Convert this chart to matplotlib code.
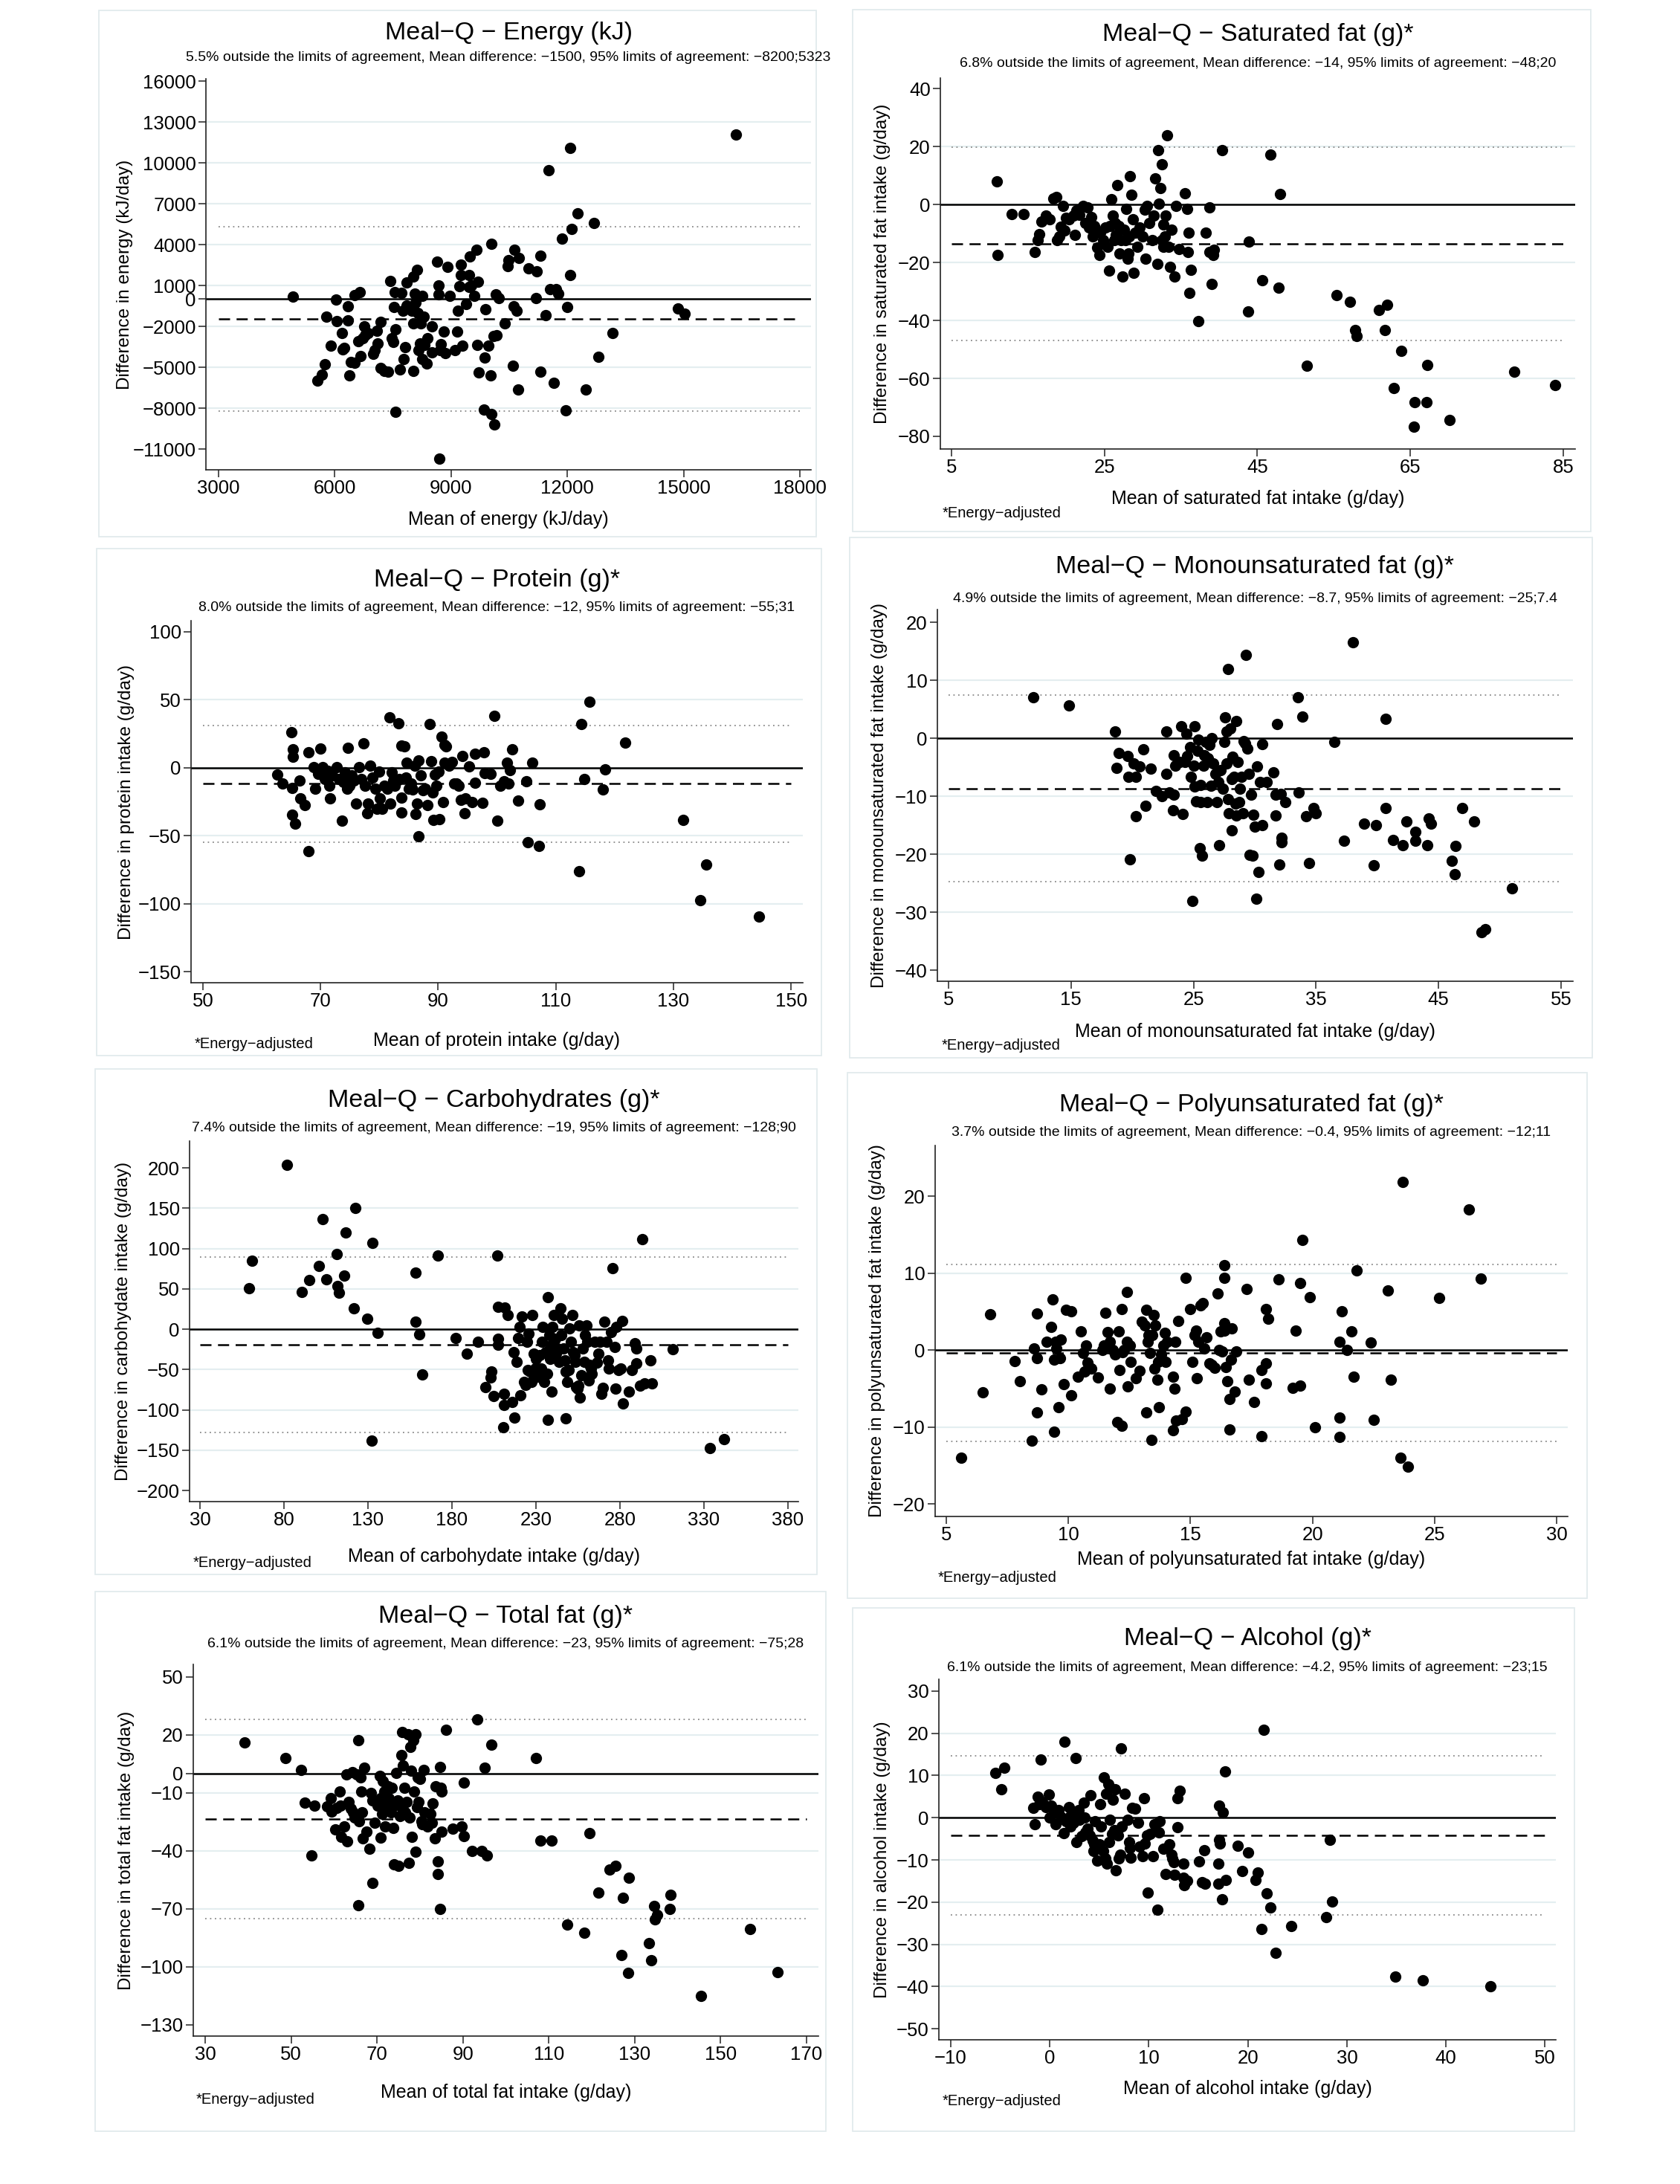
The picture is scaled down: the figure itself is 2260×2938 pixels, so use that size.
import matplotlib
matplotlib.use('Agg')
import matplotlib.pyplot as plt
from matplotlib.patches import Rectangle

W, H = 2260, 2938
NARROW = ['Liberation Sans Narrow', 'Liberation Sans', 'DejaVu Sans']
REG = ['Liberation Sans', 'DejaVu Sans']
GRID = '#e4eef0'
FRAME = '#e2ebed'
DOT = '#8a8a8a'

# ---- data: (mean of both methods, difference) ----
energy_pts = [(4919,201),(5546,-5985),(5668,-5530),(5742,-4777),(5780,-1307),(5890,-3420),(6026,-50),(6050,-1610),
    (6186,-2514),(6210,-3671),(6235,-3570),(6345,-503),(6345,-1584),(6382,-5607),(6407,-4600),(6505,300),(6517,-4650),
    (6603,-3068),(6641,528),(6666,-4199),(6728,-2891),(6763,-2011),(6788,-2640),(6849,-2514),(6985,-4023),(7034,-3772),
    (7083,-2313),(7107,-3269),(7182,-1685),(7182,-5028),(7280,-5280),(7378,-5330),(7440,1308),(7477,-2891),(7502,-3168),
    (7526,-578),(7539,503),(7564,-2213),(7564,-8298),(7674,-5155),(7711,450),(7748,-880),(7773,-4425),(7810,-3520),
    (7858,1207),(7858,-453),(7895,-704),(7957,-629),(7982,-880),(8018,-5280),(8018,-1760),(8030,1634),(8055,377),
    (8092,-251),(8117,2137),(8141,-1006),(8166,-3772),(8203,-3269),(8227,-1760),(8252,251),(8264,-4375),(8289,-1307),
    (8313,-3344),(8362,-4702),(8387,-2891),(8510,-2011),(8510,-3897),(8633,2766),(8670,1006),(8682,352),(8719,-3772),
    (8731,-3319),(8818,-2389),(8855,-3948),(8904,2364),(8966,251),(9101,-3722),(9150,-2389),(9175,-830),(9212,930),
    (9248,1760),(9260,2514),(9285,-3394),(9383,-377),(9457,880),(9469,1760),(9481,3143),(9531,1006),(9592,251),
    (9653,3621),(9678,-3344),(9702,1257),(9715,-5406),(9850,-8122),(9875,-4275),(9887,-754),(9961,-3445),(10022,-5582),
    (10035,-8423),(10048,4073),(10096,-2716),(10121,-9178),(10183,-2640),(10158,327),(10232,50),(10380,-1760),
    (10454,2439),(10478,2866),(10601,-4903),(10614,-503),(10638,3596),(10700,-880),(10724,-6613),(10749,3017),
    (10995,2238),(11192,50),(11204,2012),(11315,3168),(11315,-5330),(11438,-1207),(11524,9430),(11561,704),
    (11660,-6160),(11709,754),(11770,427),(11868,4451),(11955,-8172),(11991,-578),(12065,11064),(12077,1760),
    (12114,5155),(12262,6286),(12483,-6663),(12692,5582),(12803,-4224),(13160,-2514),(14857,-679),(15030,-1056),
    (16346,12069),(8695,-11693)]

satfat_pts = [(10.96,7.9),(11.0,-17.5),(12.9,-3.3),(14.4,-3.3),(15.9,-16.4),(16.3,-12.2),(16.5,-10.2),(16.8,-6.0),
    (17.3,-3.9),(17.8,-5.1),(18.3,2.0),(18.7,2.6),(18.8,-12.2),(19.1,-11.0),(19.3,-7.7),(19.6,-0.4),(19.8,-8.9),
    (20.0,-4.6),(20.4,-5.1),(20.9,-3.9),(21.1,-10.4),(21.3,-2.1),(21.7,-3.7),(22.2,-0.4),(22.5,-6.3),(22.8,-1.1),
    (23.0,-8.0),(23.3,-4.3),(23.5,-11.0),(23.7,-7.4),(24.1,-14.8),(24.3,-17.5),(24.4,-9.8),(24.8,-12.2),(25.1,-8.0),
    (25.4,-14.5),(25.6,-22.8),(25.7,-7.4),(25.9,1.8),(26.1,-3.9),(26.3,-12.2),(26.4,-6.3),(26.5,-10.4),(26.7,6.7),
    (26.9,-7.4),(27.0,-16.9),(27.2,-12.2),(27.4,-24.9),(27.6,-8.6),(27.7,-12.2),(27.8,-1.5),(28.0,-18.7),(28.1,-16.9),
    (28.2,-11.0),(28.3,9.7),(28.5,3.4),(28.7,-5.1),(28.8,-23.5),(29.0,-9.8),(29.3,-14.5),(29.6,-8.0),(30.0,-11.0),
    (30.3,-1.8),(30.4,-18.7),(30.6,-0.4),(30.9,-6.3),(31.2,-12.2),(31.4,-3.9),(31.6,9.1),(31.9,-20.4),(32.0,18.8),
    (32.1,0.2),(32.3,5.6),(32.5,13.8),(32.5,-12.2),(32.7,-6.9),(32.7,-14.5),(32.9,-11.0),(33.0,-3.9),(33.2,23.9),
    (33.4,-14.5),(33.6,-21.6),(33.8,-8.6),(34.2,-24.9),(34.4,-0.4),(34.7,-15.4),(35.5,3.8),(35.8,-1.5),(35.9,-16.3),
    (36.0,-9.8),(36.1,-30.5),(36.3,-22.5),(37.3,-40.2),(38.2,-9.8),(38.7,-0.9),(38.7,-16.5),(39.0,-27.5),(39.2,-17.5),
    (39.3,-15.7),(40.4,18.6),(43.9,-12.8),(43.8,-37.0),(45.6,-26.1),(46.7,17.1),(47.8,-28.7),(48.0,3.7),(51.5,-55.7),
    (55.4,-31.3),(57.1,-33.7),(57.8,-43.3),(58.0,-45.3),(60.9,-36.4),(62.0,-34.6),(61.7,-43.3),(62.8,-63.4),
    (63.8,-50.6),(65.5,-76.7),(65.6,-68.3),(67.1,-68.1),(67.2,-55.3),(70.1,-74.3),(78.6,-57.7),(83.9,-62.2)]

protein_pts = [(62.6,-4.8),(63.5,-11.8),(65.1,26.1),(65.3,13.5),(65.3,8.2),(65.2,-15.0),(65.2,-34.3),(65.7,-41.1),
    (66.4,-9.4),(66.6,-22.7),(67.3,-27.6),(68.0,11.6),(68.0,-61.4),(68.8,0.5),(69.1,-15.5),(70.0,14.0),(70.4,0.5),
    (69.6,-4.6),(70.7,-8.2),(71.2,-2.2),(71.5,-13.5),(71.6,-22.7),(72.0,-5.8),(72.8,0.2),(73.1,-8.2),(73.7,-39.2),
    (73.9,-10.6),(74.2,-3.4),(74.5,-15.5),(74.7,14.7),(74.9,-13.1),(75.3,-5.8),(75.7,-9.4),(76.1,-26.6),(76.6,0.7),
    (76.9,-8.2),(77.3,17.9),(77.5,-13.1),(77.9,-33.6),(78.1,-26.3),(78.5,1.5),(78.8,-7.0),(79.3,-15.5),(79.6,-30.0),
    (79.9,-2.9),(80.1,-22.7),(80.5,-30.0),(80.9,-13.1),(81.3,-15.5),(81.7,37.2),(81.9,-26.3),(82.1,-3.4),(82.4,-9.4),
    (82.6,-13.1),(82.8,-11.0),(83.2,32.9),(83.4,-8.2),(83.7,-22.0),(83.8,-33.1),(83.8,16.4),(84.3,15.5),(84.5,-7.0),
    (84.6,3.9),(85.0,-15.5),(85.4,-11.8),(85.6,-16.0),(86.0,1.5),(86.2,-34.1),(86.4,-26.3),(86.6,-50.5),(86.6,5.6),
    (87.0,-5.8),(87.4,-16.7),(87.8,-15.5),(88.2,-27.6),(88.6,32.4),(88.8,4.6),(89.0,-18.4),(89.2,-38.4),(89.4,-5.3),
    (89.7,-13.1),(90.1,-2.9),(90.2,-37.7),(90.6,22.7),(90.8,-25.1),(91.1,16.7),(91.1,3.9),(91.3,16.0),(91.9,1.5),
    (92.3,4.4),(92.7,-11.8),(93.1,-11.8),(93.5,-13.1),(93.9,-23.4),(94.1,8.5),(94.5,-33.6),(94.6,-22.7),(95.3,1.0),
    (95.7,-25.1),(96.2,10.4),(96.3,-11.1),(97.5,-25.6),(97.8,11.6),(97.9,-3.9),(98.9,-4.4),(99.6,38.2),(100.1,-39.2),
    (100.5,-13.1),(101.2,-10.2),(101.7,3.9),(102.0,-11.8),(102.2,-1.7),(102.6,13.5),(103.6,-24.2),(105.0,-9.9),
    (105.2,-54.9),(106.0,3.6),(107.1,-57.3),(107.2,-26.8),(113.9,-75.9),(114.3,32.1),(114.8,-8.5),(115.7,48.6),
    (118.0,-16.2),(118.4,-1.2),(121.8,18.4),(131.6,-38.2),(134.6,-97.7),(135.6,-71.1),(144.5,-109.3)]

mufa_pts = [(11.9,7.1),(14.8,5.7),(18.6,1.1),(18.7,-5.1),(18.9,-2.6),(19.6,-3.1),(19.7,-6.7),(19.8,-20.9),(20.1,-4.4),
    (20.3,-6.7),(20.3,-13.4),(20.6,-4.9),(20.9,-1.9),(21.1,-11.7),(21.5,-5.2),(21.9,-9.1),(22.4,-10.0),(22.8,-6.1),
    (22.8,1.2),(23.0,-9.3),(23.3,-12.4),(23.4,-9.8),(23.4,-2.9),(23.5,-4.8),(23.9,-4.1),(24.0,2.1),(24.1,-13.1),
    (24.3,-4.1),(24.4,0.8),(24.5,-3.1),(24.7,-1.5),(24.8,-6.7),(24.9,-28.1),(25.0,-4.8),(25.1,2.1),(25.1,-8.3),
    (25.2,-10.9),(25.3,-2.2),(25.4,-0.2),(25.5,-19.0),(25.6,-8.1),(25.6,-11.0),(25.7,-20.3),(25.8,-4.7),(25.9,-2.9),
    (26.0,-0.6),(26.1,-11.0),(26.2,-3.5),(26.3,-1.2),(26.4,-8.2),(26.5,0.0),(26.6,-4.4),(26.8,-6.1),(26.9,-11.0),
    (27.0,-7.5),(27.1,-18.4),(27.2,-5.5),(27.4,-8.7),(27.5,-0.6),(27.6,3.6),(27.7,-4.4),(27.7,1.2),(27.8,-10.5),
    (27.8,11.9),(27.9,-13.0),(28.0,1.7),(28.1,-7.0),(28.1,-15.9),(28.2,-3.2),(28.3,-6.7),(28.4,-11.3),(28.5,-13.3),
    (28.5,2.9),(28.6,-4.1),(28.7,-11.0),(28.8,-8.7),(28.9,-6.7),(29.0,-13.0),(29.1,-0.5),(29.2,-0.9),(29.3,14.3),
    (29.4,-1.8),(29.5,-6.1),(29.6,-20.1),(29.7,-9.8),(29.8,-20.2),(29.9,-13.2),(30.0,-15.3),(30.1,-27.7),(30.2,-4.9),
    (30.3,-23.1),(30.4,-7.5),(30.6,-1.0),(30.6,-15.0),(31.0,-7.5),(31.5,-5.9),(31.7,-9.8),(31.7,-13.3),(31.8,2.4),
    (32.0,-21.8),(32.1,-9.6),(32.2,-17.2),(32.2,-18.0),(32.5,-11.0),(33.5,7.1),(33.6,-9.3),(33.9,3.7),(34.2,-13.4),
    (34.4,-21.6),(34.8,-12.0),(35.0,-13.0),(36.5,-0.6),(37.3,-17.7),(38.0,16.6),(38.9,-14.8),(39.7,-21.9),(39.9,-15.0),
    (40.7,3.3),(40.7,-12.1),(41.3,-17.6),(42.1,-18.5),(42.4,-14.4),(43.1,-16.2),(43.1,-17.7),(44.1,-18.5),(44.2,-13.9),
    (44.4,-14.7),(46.1,-21.1),(46.3,-23.4),(46.4,-18.6),(46.9,-12.1),(47.9,-14.4),(48.5,-33.4),(48.8,-32.9),(51.0,-25.9)]

carb_pts = [(59.2,50.4),(60.9,84.7),(81.6,204.1),(90.7,46.3),(95.2,61.2),(100.6,78.1),(103.2,136.0),(105.4,62.0),
    (111.4,93.4),(112.0,53.3),(112.8,45.0),(116.8,119.8),(115.9,66.1),(121.6,25.6),(122.5,150.4),(129.5,13.2),
    (132.7,106.6),(132.4,-138.4),(135.8,-4.5),(158.2,69.8),(158.2,9.1),(160.5,-6.2),(162.2,-56.2),(171.8,91.7),
    (182.3,-10.7),(188.8,-30.2),(195.3,-15.7),(199.9,-71.5),(203.3,-52.9),(203.0,-59.9),(204.7,-83.1),(207.0,91.7),
    (207.5,-11.6),(207.5,-19.0),(207.5,27.7),(210.9,-80.6),(210.6,-121.9),(210.9,-94.2),(211.5,26.4),(213.2,17.4),
    (215.8,-90.1),(216.6,-28.9),(217.2,-109.5),(218.6,-40.5),(219.4,-10.7),(220.3,2.9),(220.9,-81.8),(221.7,15.3),
    (222.9,-65.3),(223.7,-69.4),(224.6,-15.7),(225.1,-50.8),(225.7,-5.4),(226.5,-52.9),(227.4,-65.3),(228.0,17.4),
    (228.8,-30.2),(229.4,-48.8),(230.2,-36.4),(230.8,-59.1),(232.2,-32.2),(233.1,-48.8),(233.6,-15.7),(234.2,2.9),
    (235.0,-65.3),(235.6,-28.1),(236.5,-55.0),(237.0,40.1),(237.3,-112.0),(237.9,-7.4),(238.5,-36.4),(238.7,-19.8),
    (239.3,-77.7),(239.9,2.9),(240.7,17.4),(241.6,-11.6),(242.1,-30.2),(243.0,-24.0),(243.6,-40.5),(244.4,25.6),
    (245.0,-7.4),(245.5,13.2),(246.4,-24.0),(247.2,-38.4),(247.8,-52.9),(247.8,-110.7),(248.4,-65.3),(249.5,-50.8),
    (250.1,0.8),(250.6,-15.7),(251.5,17.4),(252.1,-28.1),(252.9,-32.2),(253.5,-40.5),(254.0,-71.5),(254.6,-73.6),
    (255.2,-70.2),(255.7,5.0),(256.3,-85.1),(257.2,-57.0),(257.7,-24.0),(258.6,-40.5),(259.2,-7.4),(260.0,5.0),
    (260.6,-15.7),(261.4,-63.2),(262.0,-44.6),(262.6,-48.8),(263.4,-55.0),(264.8,-15.7),(266.2,-41.7),(267.1,-30.2),
    (268.2,-15.7),(269.1,-79.8),(269.9,-72.7),(270.5,9.1),(271.9,-15.7),(272.8,-38.4),(273.3,-48.8),(274.8,-3.3),
    (275.6,76.0),(276.7,-21.9),(277.3,-73.6),(277.9,2.9),(279.0,-50.8),(280.4,-48.8),(281.3,10.3),(281.8,-92.1),
    (285.2,-77.7),(286.9,-50.8),(288.9,-17.8),(289.8,-24.0),(289.8,-42.6),(291.8,-70.2),(293.2,111.2),(294.6,-67.4),
    (298.3,-38.4),(298.9,-67.4),(311.3,-24.8),(333.7,-147.9),(342.0,-136.4)]

pufa_pts = [(5.6,-14.0),(6.5,-5.5),(6.8,4.6),(7.8,-1.4),(8.0,-4.1),(8.5,-11.8),(8.6,0.2),(8.7,4.7),(8.7,-1.1),(8.7,-8.1),
    (8.9,-5.1),(9.1,1.1),(9.3,3.0),(9.35,6.6),(9.4,-10.6),(9.41,-1.3),(9.47,1.1),(9.51,0.2),(9.6,-7.4),(9.67,-1.1),
    (9.7,1.4),(9.8,-4.4),(9.9,5.2),(10.1,5.0),(10.1,-5.9),(10.4,-3.5),(10.5,2.4),(10.59,-0.4),(10.65,-2.8),(10.73,0.6),
    (10.79,-1.6),(10.85,-2.2),(10.93,-2.4),(11.2,-3.6),(11.4,0.0),(11.46,0.6),(11.5,4.8),(11.6,2.3),(11.7,-5.0),
    (11.71,1.1),(11.81,0.0),(11.91,-0.6),(12.0,-9.4),(12.07,2.4),(12.1,-2.6),(12.2,-9.9),(12.2,5.3),(12.22,-0.3),
    (12.28,0.0),(12.4,7.5),(12.4,1.1),(12.42,-4.7),(12.52,0.6),(12.56,-1.5),(12.76,-3.7),(12.93,-2.7),(13.0,3.7),
    (13.13,3.2),(13.2,5.2),(13.2,-8.1),(13.25,1.1),(13.29,1.9),(13.33,-0.4),(13.4,-11.7),(13.43,1.9),(13.5,4.5),
    (13.54,-2.4),(13.56,3.2),(13.64,-3.9),(13.68,-1.5),(13.7,-7.4),(13.8,-0.6),(13.9,0.6),(13.94,2.2),(13.98,-1.5),
    (14.04,1.1),(14.3,-3.5),(14.3,-10.4),(14.35,-5.0),(14.39,1.1),(14.4,-9.2),(14.5,3.8),(14.65,-9.0),(14.8,-8.0),
    (14.8,9.4),(15.0,5.3),(15.08,-1.5),(15.16,1.9),(15.22,2.5),(15.26,-3.7),(15.33,1.1),(15.4,5.8),(15.5,6.1),
    (15.57,0.2),(15.67,1.6),(15.77,-1.7),(15.87,-1.9),(15.98,-2.3),(16.1,7.3),(16.18,0.0),(16.24,2.4),(16.3,-0.2),
    (16.38,2.5),(16.4,3.5),(16.4,11.0),(16.4,9.4),(16.44,-2.2),(16.5,-4.1),(16.6,-6.4),(16.6,-10.3),(16.65,-1.3),
    (16.7,2.8),(16.8,-5.4),(16.89,-0.2),(17.3,7.9),(17.4,-3.9),(17.6,-6.8),(17.9,-11.2),(17.9,-2.6),(18.1,-1.7),
    (18.1,-4.3),(18.1,5.3),(18.2,4.1),(18.6,9.2),(19.2,-4.9),(19.3,2.5),(19.5,-4.6),(19.5,8.7),(19.6,14.3),(19.9,6.9),
    (20.1,-10.0),(21.1,1.1),(21.1,-8.8),(21.1,-11.3),(21.2,5.0),(21.4,0.0),(21.6,2.4),(21.7,-3.5),(21.8,10.3),
    (22.4,1.0),(22.5,-9.1),(23.1,7.7),(23.2,-3.9),(23.6,-14.0),(23.7,21.8),(23.9,-15.2),(25.2,6.8),(26.4,18.3),(26.9,9.3)]

totfat_pts = [(39.1,16.2),(48.7,7.9),(52.3,2.0),(53.2,-15.0),(54.8,-42.5),(55.5,-16.4),(58.4,-16.9),(59.2,-12.8),
    (59.5,-19.6),(60.2,-29.0),(60.6,-17.8),(61.3,-9.2),(61.5,-16.4),(61.7,-32.6),(62.3,-27.2),(62.8,-0.5),(63.1,-35.0),
    (63.4,-14.6),(63.9,-18.2),(64.2,0.7),(64.5,-20.0),(64.8,-22.7),(65.3,-0.5),(65.6,17.3),(65.6,-68.3),(65.9,-24.5),
    (66.2,-2.0),(66.4,-9.2),(66.5,-20.0),(66.7,-33.5),(67.0,3.1),(67.5,-29.9),(68.2,-38.7),(68.6,-10.1),(68.9,-13.7),
    (69.0,-56.6),(69.5,-25.4),(69.8,-14.6),(70.2,-16.4),(70.6,-1.1),(70.8,-33.2),(70.9,-12.8),(71.2,-20.9),(71.4,-3.8),
    (71.7,-9.2),(71.9,-27.2),(72.3,-16.4),(72.6,-6.5),(72.8,-12.8),(73.2,-20.0),(73.5,-7.4),(73.7,-28.1),(73.9,-16.4),
    (73.9,-47.0),(74.5,0.2),(74.8,-13.7),(75.0,-47.9),(75.3,-21.8),(75.6,9.4),(75.8,21.4),(75.9,-18.2),(76.1,4.3),
    (76.4,-7.4),(76.6,-20.0),(76.9,-14.6),(77.3,20.5),(77.5,-46.1),(77.6,-22.7),(77.8,13.9),(77.9,1.6),(78.1,-32.6),
    (78.4,17.3),(78.6,-9.2),(78.9,20.5),(78.9,-40.4),(79.3,-17.3),(79.5,-2.0),(79.7,-14.6),(80.0,-2.9),(80.4,-24.5),
    (80.6,-26.3),(80.8,2.0),(81.1,-20.0),(81.7,-27.2),(82.4,-20.9),(82.8,-25.4),(83.0,-15.5),(83.4,-33.5),(83.7,-6.5),
    (84.2,-52.1),(84.2,-45.6),(84.6,3.6),(84.7,-70.1),(84.8,-7.4),(85.0,-9.2),(85.1,-29.9),(86.0,22.7),(87.6,-28.6),
    (89.7,-27.2),(90.2,-4.7),(90.3,-32.3),(92.2,-40.2),(93.4,28.1),(94.4,-40.2),(95.1,3.1),(95.6,-42.5),(96.7,15.1),
    (107.0,7.9),(108.0,-34.8),(110.6,-34.8),(114.2,-78.0),(118.3,-82.2),(119.4,-30.8),(121.6,-61.4),(124.1,-49.7),
    (125.6,-47.6),(126.9,-93.9),(127.2,-64.1),(128.7,-53.7),(128.5,-103.2),(133.3,-87.9),(133.8,-96.6),(134.5,-68.6),
    (134.7,-75.5),(135.2,-73.2),(138.2,-70.1),(138.3,-62.7),(145.5,-115.0),(156.8,-80.4),(163.2,-102.9)]

alcohol_pts = [(-5.5,10.6),(-4.9,6.7),(-4.6,11.8),(-1.7,2.4),(-1.5,-1.6),(-1.2,5.0),(-1.1,3.2),(-0.9,13.7),(-0.8,3.8),
    (-0.4,2.6),(-0.1,5.5),(0.0,0.1),(0.1,2.8),(0.4,1.2),(0.6,-1.5),(0.9,1.8),(1.1,0.3),(1.4,-3.6),(1.5,18.0),(1.6,-0.9),
    (1.9,2.6),(2.0,0.3),(2.1,-2.1),(2.3,1.2),(2.4,-1.1),(2.6,14.2),(2.7,-5.8),(2.9,1.8),(3.0,-0.5),(3.2,-4.4),(3.4,3.5),
    (3.5,0.1),(3.6,-3.4),(3.8,-2.6),(3.9,-3.8),(4.0,-4.2),(4.1,5.4),(4.3,-5.4),(4.4,-7.9),(4.5,-6.3),(4.6,-0.9),
    (4.8,-10.2),(5.0,-6.3),(5.1,3.3),(5.2,-2.1),(5.4,-7.9),(5.5,9.6),(5.6,-9.6),(5.7,5.7),(5.8,-10.8),(5.9,8.0),
    (6.0,-5.8),(6.1,-0.5),(6.3,-3.8),(6.4,4.2),(6.5,-3.0),(6.6,6.8),(6.7,-12.4),(6.9,-4.2),(7.0,-9.6),(7.1,-8.7),
    (7.2,16.4),(7.3,-2.1),(7.6,5.7),(7.9,-0.5),(8.0,-5.7),(8.1,-7.1),(8.2,-9.4),(8.3,2.4),(8.6,2.1),(8.9,-1.2),
    (9.1,-6.9),(9.4,-9.1),(9.5,4.7),(9.6,-6.1),(9.8,-4.2),(9.9,-17.8),(10.1,-3.8),(10.4,-9.1),(10.6,-1.5),(10.9,-21.7),
    (11.0,-3.4),(11.1,-0.9),(11.5,-7.3),(11.7,-13.3),(12.1,-6.3),(12.3,-8.7),(12.4,-9.7),(12.5,-10.5),(12.6,-13.5),
    (12.9,-2.3),(12.9,4.6),(13.1,6.3),(13.5,-10.8),(13.5,-14.2),(13.6,-15.9),(13.9,-14.9),(15.1,-10.4),(15.4,-15.2),
    (15.6,-7.7),(15.7,-15.7),(17.0,-10.8),(17.0,-15.7),(17.1,2.8),(17.1,-5.2),(17.2,-6.1),(17.4,-19.4),(17.5,1.2),
    (17.7,10.9),(17.8,-14.7),(19.0,-6.7),(19.4,-12.7),(20.0,-8.3),(20.8,-14.7),(21.0,-13.0),(21.4,-26.3),(21.6,20.8),
    (21.9,-17.9),(22.3,-21.3),(22.8,-32.0),(24.4,-25.7),(27.9,-23.6),(28.3,-5.2),(28.5,-19.9),(34.9,-37.6),
    (37.7,-38.5),(44.5,-39.9)]

# mean difference and 95% limits of agreement
mean_diff = {'energy': -1460, 'satfat': -13.5, 'protein': -11.6, 'mufa': -8.7,
             'carb': -19.0, 'pufa': -0.4, 'totfat': -23.5, 'alcohol': -4.1}
loa = {'energy': (-8240, 5323), 'satfat': (-46.8, 19.7), 'protein': (-54.6, 30.9), 'mufa': (-24.8, 7.4),
       'carb': (-128, 89.5), 'pufa': (-11.9, 11.1), 'totfat': (-75.1, 28.1), 'alcohol': (-23.0, 14.6)}

titles = {'energy': 'Meal\u2212Q \u2212 Energy (kJ)',
          'satfat': 'Meal\u2212Q \u2212 Saturated fat (g)*',
          'protein': 'Meal\u2212Q \u2212 Protein (g)*',
          'mufa': 'Meal\u2212Q \u2212 Monounsaturated fat (g)*',
          'carb': 'Meal\u2212Q \u2212 Carbohydrates (g)*',
          'pufa': 'Meal\u2212Q \u2212 Polyunsaturated fat (g)*',
          'totfat': 'Meal\u2212Q \u2212 Total fat (g)*',
          'alcohol': 'Meal\u2212Q \u2212 Alcohol (g)*'}
subtitles = {'energy': '5.5% outside the limits of agreement, Mean difference: \u22121500, 95% limits of agreement: \u22128200;5323',
             'satfat': '6.8% outside the limits of agreement, Mean difference: \u221214, 95% limits of agreement: \u221248;20',
             'protein': '8.0% outside the limits of agreement, Mean difference: \u221212, 95% limits of agreement: \u221255;31',
             'mufa': '4.9% outside the limits of agreement, Mean difference: \u22128.7, 95% limits of agreement: \u221225;7.4',
             'carb': '7.4% outside the limits of agreement, Mean difference: \u221219, 95% limits of agreement: \u2212128;90',
             'pufa': '3.7% outside the limits of agreement, Mean difference: \u22120.4, 95% limits of agreement: \u221212;11',
             'totfat': '6.1% outside the limits of agreement, Mean difference: \u221223, 95% limits of agreement: \u221275;28',
             'alcohol': '6.1% outside the limits of agreement, Mean difference: \u22124.2, 95% limits of agreement: \u221223;15'}
xlabels = {'energy': 'Mean of energy (kJ/day)', 'satfat': 'Mean of saturated fat intake (g/day)',
           'protein': 'Mean of protein intake (g/day)', 'mufa': 'Mean of monounsaturated fat intake (g/day)',
           'carb': 'Mean of carbohydate intake (g/day)', 'pufa': 'Mean of polyunsaturated fat intake (g/day)',
           'totfat': 'Mean of total fat intake (g/day)', 'alcohol': 'Mean of alcohol intake (g/day)'}
ylabels = {'energy': 'Difference in energy (kJ/day)', 'satfat': 'Difference in saturated fat intake (g/day)',
           'protein': 'Difference in protein intake (g/day)', 'mufa': 'Difference in monounsaturated fat intake (g/day)',
           'carb': 'Difference in carbohydate intake (g/day)', 'pufa': 'Difference in polyunsaturated fat intake (g/day)',
           'totfat': 'Difference in total fat intake (g/day)', 'alcohol': 'Difference in alcohol intake (g/day)'}
xticks = {'energy': [3000, 6000, 9000, 12000, 15000, 18000], 'satfat': [5, 25, 45, 65, 85],
          'protein': [50, 70, 90, 110, 130, 150], 'mufa': [5, 15, 25, 35, 45, 55],
          'carb': [30, 80, 130, 180, 230, 280, 330, 380], 'pufa': [5, 10, 15, 20, 25, 30],
          'totfat': [30, 50, 70, 90, 110, 130, 150, 170], 'alcohol': [-10, 0, 10, 20, 30, 40, 50]}
yticks = {'energy': [-11000, -8000, -5000, -2000, 0, 1000, 4000, 7000, 10000, 13000, 16000],
          'satfat': [-80, -60, -40, -20, 0, 20, 40], 'protein': [-150, -100, -50, 0, 50, 100],
          'mufa': [-40, -30, -20, -10, 0, 10, 20], 'carb': [-200, -150, -100, -50, 0, 50, 100, 150, 200],
          'pufa': [-20, -10, 0, 10, 20], 'totfat': [-130, -100, -70, -40, -10, 0, 20, 50],
          'alcohol': [-50, -40, -30, -20, -10, 0, 10, 20, 30]}
points = {'energy': energy_pts, 'satfat': satfat_pts, 'protein': protein_pts, 'mufa': mufa_pts,
          'carb': carb_pts, 'pufa': pufa_pts, 'totfat': totfat_pts, 'alcohol': alcohol_pts}

# layout in pixels of the 2260x2938 picture
# key: axes box (l,t,r,b), xlim, ylim, frame box, title y, subtitle y, xlabel y, ylabel x, note (x,y) or None
layout = {
    'energy':  dict(box=(277, 106, 1091, 632), xlim=(2674, 18288), ylim=(-12527, 16164), frame=(133, 14, 1098, 722),
                    ty=44, sy=78, xy=699, yx=168, note=None),
    'satfat':  dict(box=(1265, 105, 2119, 604), xlim=(3.54, 86.56), ylim=(-84.36, 43.6), frame=(1147, 13, 2140, 715),
                    ty=46, sy=85, xy=671, yx=1187, note=(1268, 690)),
    'protein': dict(box=(257, 835, 1080, 1322), xlim=(47.98, 152.0), ylim=(-158.2, 108.2), frame=(130, 738, 1105, 1420),
                    ty=780, sy=817, xy=1400, yx=170, note=(262, 1405)),
    'mufa':    dict(box=(1261, 820, 2116, 1320), xlim=(4.09, 55.97), ylim=(-41.92, 22.18), frame=(1143, 723, 2142, 1423),
                    ty=763, sy=805, xy=1388, yx=1183, note=(1267, 1406)),
    'carb':    dict(box=(255, 1535, 1074, 2020), xlim=(23.8, 386.2), ylim=(-213.8, 233.2), frame=(128, 1438, 1099, 2118),
                    ty=1480, sy=1518, xy=2094, yx=166, note=(260, 2102)),
    'pufa':    dict(box=(1258, 1541, 2109, 2040), xlim=(4.54, 30.46), ylim=(-21.64, 26.57), frame=(1140, 1443, 2135, 2150),
                    ty=1486, sy=1524, xy=2098, yx=1180, note=(1262, 2122)),
    'totfat':  dict(box=(260, 2239, 1101, 2739), xlim=(27.23, 172.77), ylim=(-135.8, 56.5), frame=(128, 2141, 1111, 2867),
                    ty=2175, sy=2212, xy=2815, yx=170, note=(264, 2824)),
    'alcohol': dict(box=(1263, 2259, 2093, 2744), xlim=(-11.2, 51.1), ylim=(-52.6, 32.8), frame=(1147, 2163, 2118, 2867),
                    ty=2204, sy=2243, xy=2810, yx=1187, note=(1268, 2827)),
}

fig = plt.figure(figsize=(W / 100, H / 100), dpi=100)
fig.patch.set_facecolor('white')


def fx(x):
    return x / W


def fy(y):
    return 1 - y / H


for key, lay in layout.items():
    l, t, r, b = lay['box']
    ax = fig.add_axes([fx(l), fy(b), (r - l) / W, (b - t) / H])

    fl, ft, fr, fb = lay['frame']
    fig.add_artist(Rectangle((fx(fl), fy(fb)), (fr - fl) / W, (fb - ft) / H, transform=fig.transFigure,
                             fill=False, ec=FRAME, lw=1.3, zorder=0))

    for v in yticks[key][1:-1]:
        ax.axhline(v, color=GRID, lw=1.6, zorder=0)

    x0, x1 = xticks[key][0], xticks[key][-1]
    lo, hi = loa[key]
    ax.axhline(0, color='black', lw=1.8, zorder=1)
    ax.plot([x0, x1], [mean_diff[key]] * 2, color='black', lw=1.8, dashes=(6, 3.5), zorder=1)
    ax.plot([x0, x1], [lo, lo], color=DOT, lw=1.3, dashes=(1, 2.6), zorder=1)
    ax.plot([x0, x1], [hi, hi], color=DOT, lw=1.3, dashes=(1, 2.6), zorder=1)

    xs = [p[0] for p in points[key]]
    ys = [p[1] for p in points[key]]
    ax.plot(xs, ys, 'o', color='black', ms=11, mew=0, zorder=3)

    ax.set_xlim(*lay['xlim'])
    ax.set_ylim(*lay['ylim'])
    ax.set_xticks(xticks[key])
    ax.set_yticks(yticks[key])
    ax.tick_params(direction='out', length=7.5, width=1.1, color='#222222', labelsize=18.5, pad=2)
    for lbl in ax.get_xticklabels() + ax.get_yticklabels():
        lbl.set_family(NARROW)
    for s in ('top', 'right'):
        ax.spines[s].set_visible(False)
    for s in ('left', 'bottom'):
        ax.spines[s].set_linewidth(1.2)
        ax.spines[s].set_color('#222222')
    ax.set_facecolor('white')

    cx = (l + r) / 2
    fig.text(fx(cx), fy(lay['ty']), titles[key], ha='center', va='center', fontsize=24.5, family=NARROW)
    fig.text(fx(cx), fy(lay['sy']), subtitles[key], ha='center', va='center', fontsize=14, family=NARROW)
    fig.text(fx(cx), fy(lay['xy']), xlabels[key], ha='center', va='center', fontsize=18, family=NARROW)
    fig.text(fx(lay['yx']), fy((t + b) / 2), ylabels[key], ha='center', va='center', rotation=90,
             fontsize=17.5, family=REG)
    if lay['note'] is not None:
        nx, ny = lay['note']
        fig.text(fx(nx), fy(ny), '*Energy\u2212adjusted', ha='left', va='center', fontsize=14.5, family=NARROW)

fig.savefig('out.png', dpi=100, facecolor='white')
